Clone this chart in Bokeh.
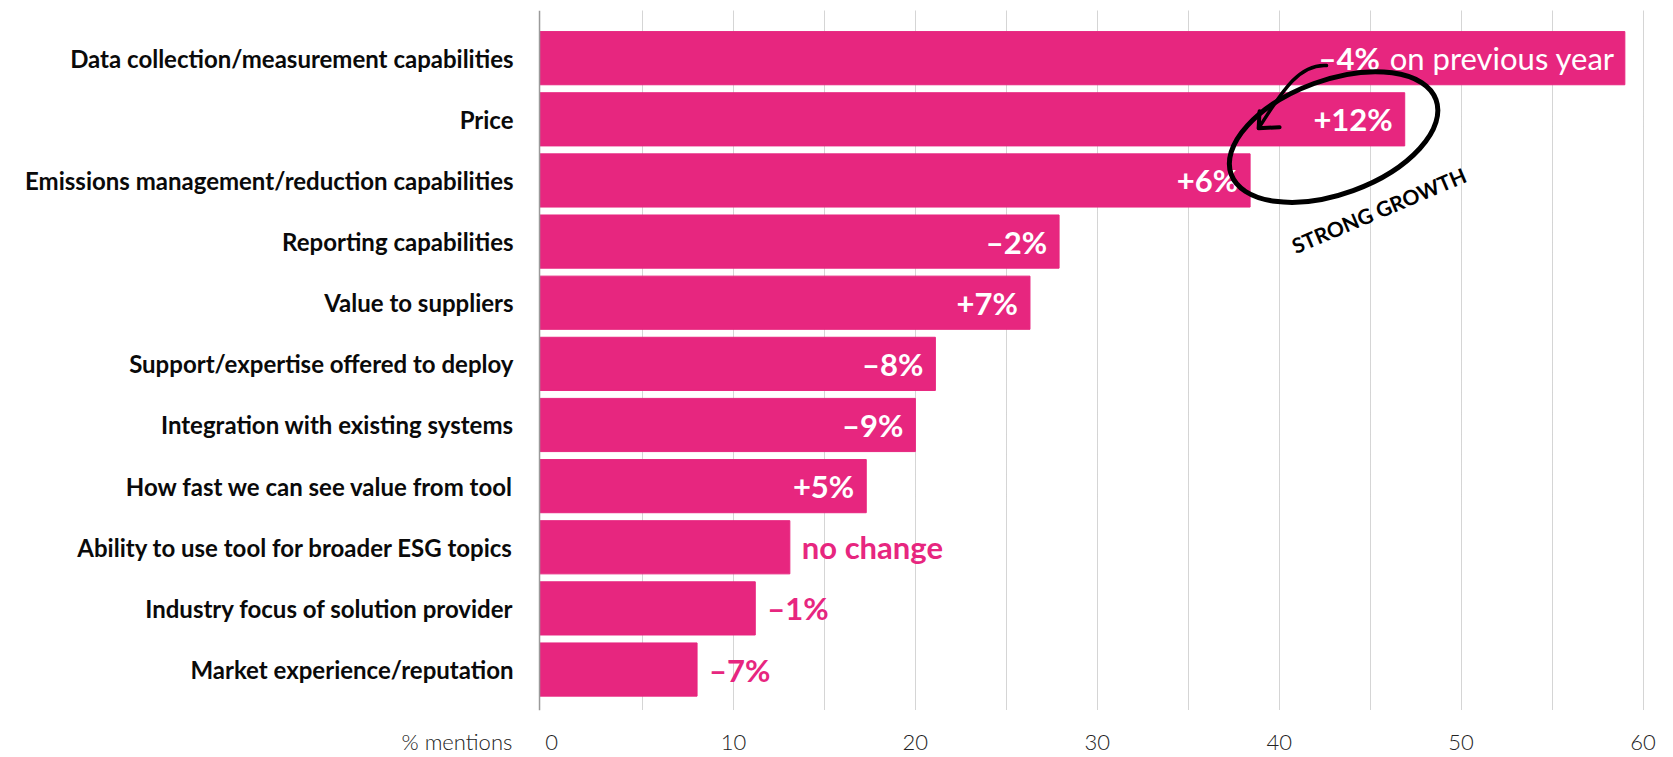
from bokeh.plotting import figure
from bokeh.models import Range1d, FixedTicker, ColumnDataSource, Span
from bokeh.embed import file_html
from bokeh.resources import INLINE
from bokeh.core.properties import value

# ---- data ----
categories = [
    "Data collection/measurement capabilities",
    "Price",
    "Emissions management/reduction capabilities",
    "Reporting capabilities",
    "Value to suppliers",
    "Support/expertise offered to deploy",
    "Integration with existing systems",
    "How fast we can see value from tool",
    "Ability to use tool for broader ESG topics",
    "Industry focus of solution provider",
    "Market experience/reputation",
]
mentions = [59.0, 46.9, 38.4, 27.9, 26.3, 21.1, 20.0, 17.3, 13.1, 11.2, 8.0]
changes = ["\u20134%", "+12%", "+6%", "\u20132%", "+7%", "\u20138%", "\u20139%", "+5%",
           "no change", "\u20131%", "\u20137%"]
first_suffix = "on previous year"
x_tick_values = [0, 10, 20, 30, 40, 50, 60]
grid_values = [5, 10, 15, 20, 25, 30, 35, 40, 45, 50, 55, 60]
x_axis_title = "% mentions"
note_text = "STRONG GROWTH"

# ---- style / layout constants ----
PINK = "#E7267F"
FONT = "Lato"
LIGHT_FONT = "Lato Light"
X_LEFT, X_START, X_END = -30.29, -0.66, 60.3   # frame left edge, value axis line, frame right
Y_BOTTOM, Y_TOP = 10.67, -0.78
TITLE_X = -5.2                                 # where the "% mentions" tick label sits
INSIDE_MIN = 15
LABEL_SIZE = "31px"

ypos = list(range(len(categories)))
src = ColumnDataSource(dict(y=ypos, mentions=mentions, label=changes, cat=categories))

inside_idx = [i for i, v in enumerate(mentions) if v > INSIDE_MIN]
outside_idx = [i for i, v in enumerate(mentions) if v <= INSIDE_MIN]

p = figure(width=1673, height=757,
           x_range=Range1d(X_LEFT, X_END), y_range=Range1d(Y_BOTTOM, Y_TOP),
           output_backend="svg", toolbar_location=None, y_axis_location=None,
           min_border_left=0, min_border_right=25, min_border_top=10, min_border_bottom=45)
p.outline_line_color = None
p.background_fill_color = "white"
p.border_fill_color = "white"

# bars
p.hbar(y="y", left=X_START, right="mentions", height=0.87, color=PINK, source=src)

# category labels, right-aligned against the value axis line
p.text(x=X_START, y="y", text="cat", source=src, x_offset=-26,
       text_align="right", text_baseline="middle", text_color="#0a0a0a",
       text_font=value(FONT), text_font_style="bold", text_font_size="24px")

# value axis line
p.add_layout(Span(location=X_START, dimension="height", line_color="#9a9a9a", line_width=1.5))

# inside labels (first bar gets a two-part label)
in_src = ColumnDataSource(dict(
    y=[ypos[i] for i in inside_idx if i != 0],
    x=[mentions[i] for i in inside_idx if i != 0],
    t=[changes[i] for i in inside_idx if i != 0]))
p.text(x="x", y="y", text="t", source=in_src, x_offset=-12,
       text_align="right", text_baseline="middle", text_color="white",
       text_font=value(FONT), text_font_style="bold", text_font_size=LABEL_SIZE)

p.text(x=[mentions[0]], y=[ypos[0]], text=[first_suffix], x_offset=-10,
       text_align="right", text_baseline="middle", text_color="white",
       text_font=value(FONT), text_font_style="normal", text_font_size=LABEL_SIZE)
p.text(x=[mentions[0]], y=[ypos[0]], text=[changes[0]], x_offset=-245,
       text_align="right", text_baseline="middle", text_color="white",
       text_font=value(FONT), text_font_style="bold", text_font_size=LABEL_SIZE)

out_src = ColumnDataSource(dict(
    y=[ypos[i] for i in outside_idx],
    x=[mentions[i] for i in outside_idx],
    t=[changes[i] for i in outside_idx]))
p.text(x="x", y="y", text="t", source=out_src, x_offset=12,
       text_align="left", text_baseline="middle", text_color=PINK,
       text_font=value(FONT), text_font_style="bold", text_font_size=LABEL_SIZE)

# hand-drawn annotation
p.ellipse(x=[42.99], y=[1.29], width=218, height=114, width_units="screen",
          height_units="screen", angle=0.35, fill_color=None,
          line_color="black", line_width=5)
p.bezier(x0=[42.6], y0=[0.12], x1=[38.87], y1=[1.145],
         cx0=[41.0], cy0=[0.085], cx1=[40.02], cy1=[0.62],
         line_color="black", line_width=3.5, line_cap="round")
p.multi_line(xs=[[38.92, 38.87, 40.02]], ys=[[0.868, 1.145, 1.129]],
             line_color="black", line_width=4, line_join="round", line_cap="round")
p.text(x=[45.47], y=[2.483], text=[note_text], angle=0.40,
       text_align="center", text_baseline="middle", text_color="black",
       text_font=value(FONT), text_font_style="bold", text_font_size="21px")

# x axis (value ticks plus the "% mentions" caption as an extra labelled tick)
p.xaxis.ticker = FixedTicker(ticks=[TITLE_X] + x_tick_values)
p.xaxis.major_label_overrides = {TITLE_X: x_axis_title}
p.xaxis.axis_line_color = None
p.xaxis.major_tick_line_color = None
p.xaxis.minor_tick_line_color = None
p.xaxis.major_label_standoff = 11
p.xaxis.major_label_text_font = LIGHT_FONT
p.xaxis.major_label_text_font_size = "22px"
p.xaxis.major_label_text_color = "#222222"

for g in p.grid:
    if g.dimension == 1:
        g.visible = False
p.xgrid.ticker = FixedTicker(ticks=grid_values)
p.xgrid.grid_line_color = "#aaaaaa"
p.xgrid.grid_line_dash = "1 1"
p.xgrid.grid_line_width = 1

open("out.html", "w").write(file_html(p, INLINE))
